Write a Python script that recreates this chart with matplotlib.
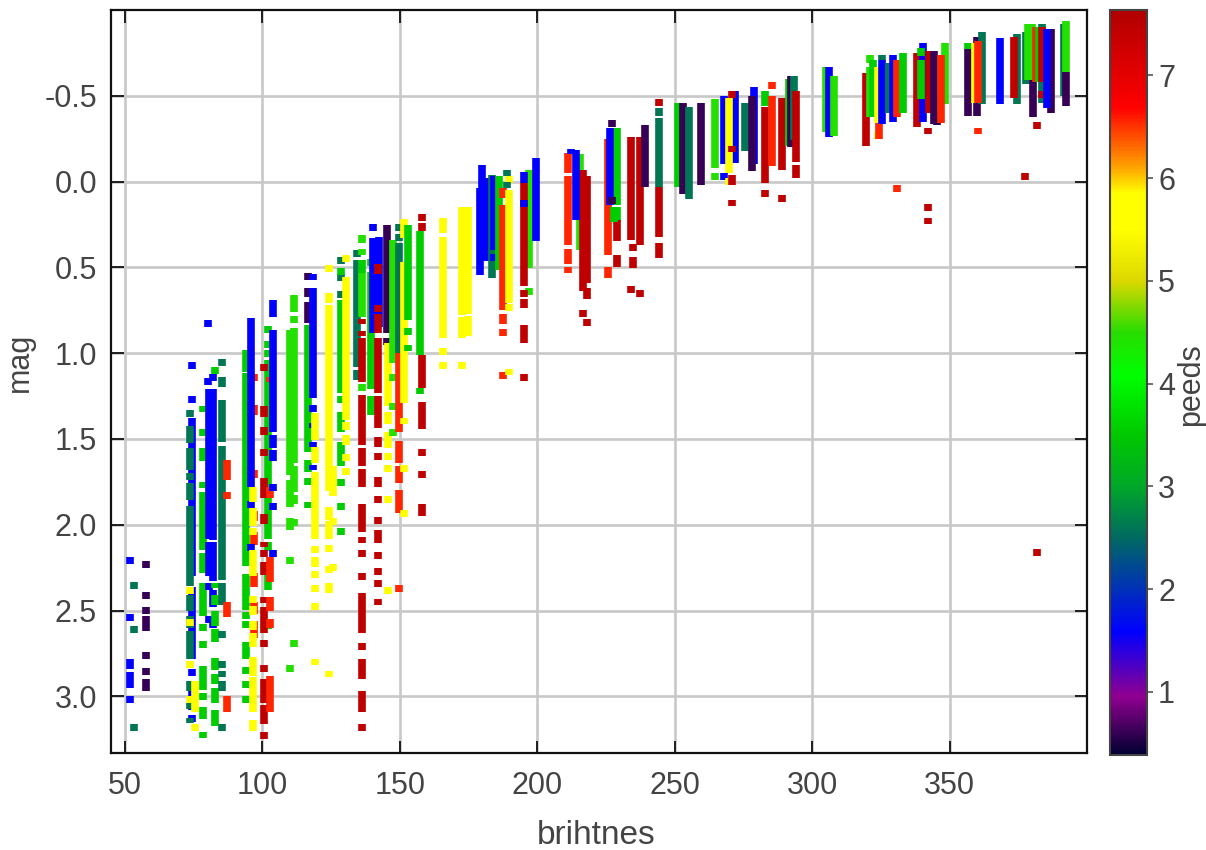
import numpy as np
import matplotlib
matplotlib.use('Agg')
import matplotlib.pyplot as plt
from matplotlib.colors import LinearSegmentedColormap, Normalize

plt.rcParams['font.family'] = ['Liberation Sans', 'DejaVu Sans']

# speed levels seen in the picture
P, B, T, G, L, Y, O, R = 0.6, 1.58, 2.6, 3.55, 4.45, 5.6, 6.55, 7.45

# one entry per column: a float is a single point, a tuple is a (top, bottom) run of points
col_x = [51.8, 53.5, 57.7,
         74.6, 73.8, 73.6, 75.6, 78.5, 80.8, 82.2, 80.3, 82.9, 85.5, 87.2,
         94, 97.1, 95.9, 96.6, 102, 100.7, 102.9, 104,
         110, 111.7, 116.8, 116.8, 118.6, 119.2,
         124.3, 125.8, 128.5, 128.5, 130.4,
         134.4, 136.4, 136.4, 136.4, 139.5, 140.2, 142.4, 142.2,
         145.3, 145.6, 147.7, 149.7, 149.7, 151.5, 153, 157.4, 158.1, 158.1, 165.8,
         172.5, 174.8, 179.2, 180, 181.6, 183.7, 184.3, 186.2, 187.6, 189.7, 189.2,
         197.1, 195.3, 195.3, 199.6,
         211.3, 212.2, 215.5, 216.5, 218, 214.3,
         225.6, 228.9, 226.6, 227.3, 228.9, 228, 234.2, 237.5, 235, 239.2, 244.3, 244.3,
         251.1, 253, 255.3, 259.5, 264.6, 268, 271.9, 269.8, 270.7, 275.6, 279, 278.2,
         283, 283, 285.5, 289, 291.5, 292.4, 293.3, 294.2,
         305.1, 306.1, 307.9, 319.5, 321.2, 322.2, 323.9, 324.5,
         325.5, 325.5, 327.9, 329.6, 331, 333,
         338.1, 340.5, 339.8, 342.3, 342.6, 344.2, 348.5, 345.5, 346.8,
         356.7, 356.7, 360.1, 361.7, 359.1, 360.5, 368.5,
         374.4, 373.6, 377.8, 377.4, 380.2, 378.4, 380, 383.6, 381.6, 382.4, 383.6,
         381.9, 387, 385.6, 391.5, 392.3, 392.3]

col_speed = [B, T, P,
             B, T, Y, Y, G, B, B, B, G, T, O,
             G, O, B, Y, G, R, O, B,
             L, L, P, G, B, Y,
             Y, Y, T, G, Y,
             T, L, G, R, G, B, B, R,
             P, Y, L, T, O, Y, G, G, R, R, Y,
             Y, Y, B, B, B, T, B, G, O, Y, T,
             L, R, B, B,
             O, B, L, R, R, B,
             O, G, B, P, R, G, R, R, R, P, T, R,
             G, P, T, P, L, B, B, Y, R, T, B, P,
             R, G, O, R, G, P, T, R,
             L, B, L, R, L, G, Y, O,
             T, B, T, B, O, G,
             R, B, G, R, R, P, L, P, O,
             P, G, P, T, Y, O, B,
             T, R, T, R, P, L, L, T, O, G, R,
             R, P, B, T, L, P]

col_marks = [
    [2.21, 2.54, (2.785, 2.843), (2.86, 2.95), 3.02],
    [2.355, 2.61, 3.18],
    [2.23, 2.41, 2.50, (2.53, 2.62), 2.76, 2.855, (2.90, 2.97)],
    # x near 75 to 87
    [1.07, 1.27, (1.38, 2.05), (2.05, 2.30), (2.36, 2.62), (2.62, 2.78), (2.84, 2.88), (2.96, 3.08), 3.13],
    [1.353, (1.427, 1.523), (1.553, 1.68), (1.70, 1.74), (1.757, 1.854), (1.893, 2.358), (2.407, 2.504),
     (2.533, 2.60), (2.62, 2.785), (2.91, 2.97), (3.036, 3.076), (3.124, 3.155)],
    [2.385, 2.57, 2.815, 3.02],
    [(2.91, 3.09), 3.18],
    [1.325, 1.46, (1.55, 1.63), (1.75, 1.785), (1.81, 2.145), (2.165, 2.28), (2.34, 2.53), (2.58, 2.62),
     (2.68, 2.72), (2.825, 2.96), (2.98, 3.02), (3.06, 3.13), 3.225],
    [(1.21, 2.08), (2.10, 2.30), 2.36, 2.55],
    [1.14, (1.21, 2.087), (2.10, 2.33), (2.38, 2.48), (2.54, 2.60)],
    [0.825, 1.165],
    [1.10, (2.34, 2.37), (2.41, 2.47), (2.50, 2.59), (2.61, 2.685), (2.775, 2.845), (2.87, 2.93), (2.95, 3.04),
     (3.08, 3.175)],
    [1.055, (1.14, 1.195), (1.27, 1.52), (1.54, 2.32), (2.34, 2.47), 2.64, 2.815, 2.87, (2.91, 2.97), 3.18],
    [(1.62, 1.74), 1.83, (2.45, 2.535), (3.0, 3.09)],
    # x near 95 to 104
    [(0.98, 1.11), (1.115, 2.24), (2.285, 2.495), 2.53, 2.58, (2.685, 2.78), 2.85, 2.93, 3.02],
    [1.14, (1.30, 1.36), (1.68, 1.73), (1.92, 1.98), (2.04, 2.12), (2.28, 2.36), (2.45, 2.52), (2.56, 2.66)],
    [(0.795, 1.78), 1.88, 2.13],
    [(1.78, 1.865), (1.90, 2.01), (2.02, 2.06), (2.145, 2.30),
     (2.415, 2.455), (2.475, 2.525), (2.56, 2.615), (2.63, 2.71), (2.77, 2.88), (2.89, 3.09), (3.135, 3.2)],
    [0.864, 0.95, 1.0, (1.04, 2.085), (2.10, 2.15), (2.29, 2.38), 2.59],
    [1.085, (1.31, 1.37), (1.43, 1.475), 1.58, (1.725, 1.845), (1.94, 1.995), (2.10, 2.13), (2.145, 2.185),
     (2.215, 2.29), (2.42, 2.455), (2.48, 2.63), 2.69, 2.84, (2.90, 3.04), (3.05, 3.16), 3.23],
    [(1.14, 1.17), (1.78, 1.845), (2.185, 2.335), (2.42, 2.505), (2.55, 2.60), (2.88, 3.09)],
    [(0.69, 0.79), (0.865, 1.46), (1.475, 1.55), (1.565, 1.63), 1.785, 1.895, 2.165],
    # x near 110 to 119
    [(0.865, 1.71), (1.74, 1.895), (1.96, 2.03), 2.21, 2.84],
    [(0.66, 0.76), 0.806, (0.855, 1.64), (1.66, 1.81), (1.825, 1.88), 1.985, 2.69],
    [0.555, (0.62, 0.67), (0.70, 0.825)],
    [(0.835, 1.575), (1.62, 1.69), 1.75, 1.885],
    [0.556, (0.62, 1.26), (1.30, 1.34), (1.405, 1.435), (1.515, 1.545), (1.65, 1.68)],
    [(1.35, 1.505), (1.545, 1.64), (1.69, 2.085), 2.145, (2.185, 2.245), 2.29, 2.37, 2.475, 2.80],
    # x near 124 to 130
    [0.505, (0.65, 0.71), (0.72, 1.805), (1.895, 1.97), (1.98, 2.085), 2.14, 2.26, (2.34, 2.395), 2.87],
    [(1.66, 1.835), 1.98, 2.25],
    [0.46, 0.56, 0.66],
    [0.525, (0.69, 1.23), 1.27, (1.34, 1.46), (1.52, 1.66), 1.755, 1.895, 2.04],
    [0.45, (0.555, 1.39), (1.40, 1.45), (1.475, 1.535), (1.59, 1.63), 1.69],
    # x near 134 to 142
    [0.42, (0.455, 1.08), (1.10, 1.155)],
    [(0.31, 0.36), 0.41, (0.535, 0.79), 1.20],
    [(0.455, 0.53)],
    [(0.80, 0.83), (0.87, 0.90), (0.91, 1.165), (1.245, 1.535), (1.55, 1.66), (1.675, 1.78), (1.88, 2.04),
     (2.07, 2.105), 2.165, 2.30, (2.395, 2.63), 2.71, (2.785, 2.90), (2.97, 3.09), 3.18],
    [0.47, (0.525, 1.21), (1.25, 1.36)],
    [0.27, (0.33, 0.88)],
    [(0.32, 0.845)],
    [(0.48, 0.54), (0.72, 0.76), (0.77, 0.88), (0.91, 1.23), (1.25, 1.435), (1.49, 1.545), 1.60, (1.72, 1.78),
     1.855, 1.975, (2.03, 2.105), 2.18, 2.27, 2.34, 2.45],
    # x near 145 to 166
    [(0.255, 0.88), 0.93],
    [(0.94, 1.31), (1.34, 1.41), (1.46, 1.55), 1.60, 1.67, 1.855, 2.385],
    [(0.34, 1.06), 1.14, 1.31, 1.46],
    [0.27, 0.325, (0.36, 1.0)],
    [(1.0, 1.46), (1.51, 1.55), (1.55, 1.64), (1.66, 1.755), (1.795, 1.93), 2.37],
    [(0.22, 0.33), (0.47, 1.29), 1.395, 1.67, 1.935],
    [(0.255, 0.805), 0.875, 0.97],
    [(0.29, 1.01), 1.22],
    [(0.24, 0.29), (1.01, 1.20), (1.285, 1.44), 1.58, 1.705, (1.88, 1.95)],
    [0.21],
    [(0.21, 0.30), (0.32, 0.91), 0.99, 1.07],
    # x near 172 to 200
    [(0.15, 0.78), (0.79, 0.91), 1.07],
    [(0.15, 0.77), (0.785, 0.90)],
    [(0.04, 0.545)],
    [(-0.095, 0.455)],
    [(-0.02, 0.46)],
    [(-0.04, 0.56)],
    [(-0.03, 0.40), (0.42, 0.46)],
    [(-0.03, 0.515)],
    [(0.04, 0.095), (0.135, 0.75), (0.77, 0.83), 0.88, 1.13],
    [-0.01, (0.05, 0.71), 0.735, 1.11],
    [-0.05, 0.02],
    [(-0.07, 0.505), 0.64],
    [(0.01, 0.61), 0.65, (0.685, 0.735), (0.835, 0.94), 1.14],
    [(-0.055, 0.01), 0.13],
    [(-0.135, 0.345)],
    # x near 211 to 218
    [(-0.165, -0.05), (-0.03, 0.37), (0.39, 0.48), (0.50, 0.53)],
    [(-0.19, -0.16)],
    [(-0.16, 0.40)],
    [(-0.07, 0.64), 0.77],
    [(-0.03, 0.59), (0.62, 0.685), 0.82],
    [(-0.185, 0.225)],
    # x near 225 to 245
    [(-0.25, 0.43), (0.50, 0.56)],
    [(-0.315, 0.135), (0.15, 0.235)],
    [(-0.315, 0.135)],
    [-0.34, 0.11],
    [(0.225, 0.345), (0.43, 0.50)],
    [(0.15, 0.235)],
    [(-0.26, 0.34), 0.63],
    [(-0.26, 0.37), 0.65],
    [0.385, (0.44, 0.505)],
    [(-0.33, 0.03)],
    [(-0.43, -0.385), (-0.37, 0.03)],
    [-0.46, (0.03, 0.32), (0.36, 0.445)],
    # x near 251 to 279
    [(-0.46, 0.03)],
    [(-0.46, 0.07)],
    [(-0.435, 0.10)],
    [(-0.46, 0.02)],
    [(-0.48, -0.08), -0.03],
    [(-0.50, -0.10), -0.03],
    [(-0.53, -0.11)],
    [(-0.49, -0.05), 0.0],
    [-0.51, (-0.21, -0.17), (-0.04, 0.02), 0.125],
    [(-0.46, -0.18)],
    [(-0.55, -0.10)],
    [(-0.50, -0.06)],
    # x near 283 to 294
    [(-0.435, 0.01), 0.07],
    [(-0.53, -0.44)],
    [(-0.50, -0.09), -0.56],
    [(-0.49, -0.07), 0.10],
    [(-0.60, -0.21)],
    [(-0.615, -0.2)],
    [(-0.615, -0.24)],
    [(-0.53, -0.115), (-0.095, -0.02)],
    # x near 305 to 333
    [(-0.67, -0.29)],
    [(-0.67, -0.26)],
    [(-0.615, -0.265)],
    [(-0.63, -0.205)],
    [(-0.74, -0.69), (-0.67, -0.375)],
    [(-0.71, -0.375)],
    [(-0.67, -0.34), -0.27],
    [(-0.34, -0.25)],
    [(-0.74, -0.71)],
    [(-0.71, -0.335)],
    [(-0.69, -0.40)],
    [(-0.735, -0.345)],
    [(-0.71, -0.375), 0.04],
    [(-0.75, -0.40)],
    # x near 338 to 349
    [(-0.75, -0.32)],
    [(-0.81, -0.345)],
    [(-0.78, -0.73), (-0.71, -0.48)],
    [-0.295, 0.15, 0.23],
    [(-0.76, -0.40)],
    [(-0.76, -0.335)],
    [(-0.805, -0.455)],
    [(-0.40, -0.33)],
    [(-0.735, -0.34)],
    # x near 356 to 369
    [(-0.775, -0.385)],
    [(-0.805, -0.775)],
    [(-0.84, -0.385)],
    [(-0.87, -0.455)],
    [(-0.805, -0.46)],
    [(-0.82, -0.46), -0.295],
    [(-0.835, -0.455)],
    # x near 374 to 392
    [(-0.86, -0.455)],
    [(-0.84, -0.49)],
    [(-0.87, -0.57)],
    [-0.03],
    [(-0.59, -0.375)],
    [(-0.92, -0.59)],
    [(-0.92, -0.59)],
    [(-0.92, -0.46)],
    [(-0.90, -0.58)],
    [(-0.90, -0.58)],
    [(-0.90, -0.58), (-0.53, -0.49)],
    [-0.325, 2.16],
    [(-0.89, -0.84), (-0.84, -0.40)],
    [(-0.89, -0.43)],
    [(-0.92, -0.50)],
    [(-0.935, -0.64)],
    [(-0.64, -0.44)],
]

x_ticks = [50, 100, 150, 200, 250, 300, 350]
y_ticks = [-0.5, 0.0, 0.5, 1.0, 1.5, 2.0, 2.5, 3.0]
speed_ticks = [1, 2, 3, 4, 5, 6, 7]

speed_min, speed_max = 0.385, 7.635
cmap_nodes = [(0.385, '#000030'), (0.95, '#900090'), (1.58, '#0000ff'), (2.5, '#006a60'),
              (3.0, '#00a828'), (3.5, '#00c800'), (4.08, '#00ff00'), (4.5, '#28dc00'),
              (5.0, '#dcd800'), (5.5, '#ffff00'), (5.85, '#ffff00'), (6.14, '#ff9900'),
              (6.69, '#ff0000'), (7.635, '#b00000')]
cmap = LinearSegmentedColormap.from_list(
    'speed', [((s - speed_min) / (speed_max - speed_min), c) for s, c in cmap_nodes], N=512)
norm = Normalize(speed_min, speed_max)

xs, tops, bottoms, speeds = [], [], [], []
for x, speed, marks in zip(col_x, col_speed, col_marks):
    for m in marks:
        if isinstance(m, tuple):
            top, bottom = m
        else:
            top, bottom = m - 0.02, m + 0.02
        xs.append(x)
        tops.append(top)
        bottoms.append(bottom)
        speeds.append(speed)

fig = plt.figure(figsize=(12.06, 8.5), dpi=100)
ax = fig.add_axes([111 / 1206, 97 / 850, 976 / 1206, 743 / 850])
cax = fig.add_axes([1110 / 1206, 95 / 850, 37 / 1206, 745 / 850])

lines = ax.vlines(xs, tops, bottoms, linewidth=5.5, capstyle='butt', zorder=3)
lines.set_array(np.array(speeds))
lines.set_cmap(cmap)
lines.set_norm(norm)

ax.set_xlim(45, 400)
ax.set_ylim(3.33, -1.0)
ax.set_xticks(x_ticks)
ax.set_yticks(y_ticks)
ax.set_yticklabels(['-0.5', '0.0', '0.5', '1.0', '1.5', '2.0', '2.5', '3.0'])
ax.grid(True, color='#c8c8c8', linewidth=1.9)
ax.set_axisbelow(True)
ax.tick_params(axis='both', direction='in', length=9, width=1.3, color='#111111', top=True, right=True,
               labelsize=22, labelcolor='#444444', zorder=4)
ax.tick_params(axis='x', pad=13)
ax.tick_params(axis='y', pad=10)
for spine in ax.spines.values():
    spine.set_linewidth(1.6)
    spine.set_color('#111111')
    spine.set_zorder(5)

ax.set_xlabel('brihtnes', fontsize=24, color='#444444')
ax.xaxis.set_label_coords(0.497, -0.09)
ax.set_ylabel('mag', fontsize=22, color='#444444')
ax.yaxis.set_label_coords(-0.078, 0.526)

cbar = fig.colorbar(lines, cax=cax)
cbar.set_ticks(speed_ticks)
cbar.ax.tick_params(direction='out', length=4, width=1.2, color='#555555', labelsize=22, labelcolor='#444444', pad=4)
cbar.outline.set_linewidth(1.5)
cbar.outline.set_edgecolor('#444444')
cbar.set_label('peeds', fontsize=22, color='#444444', rotation=90)
cbar.ax.yaxis.set_label_coords(1.78, 0.497)

fig.savefig('out.png', dpi=100)
